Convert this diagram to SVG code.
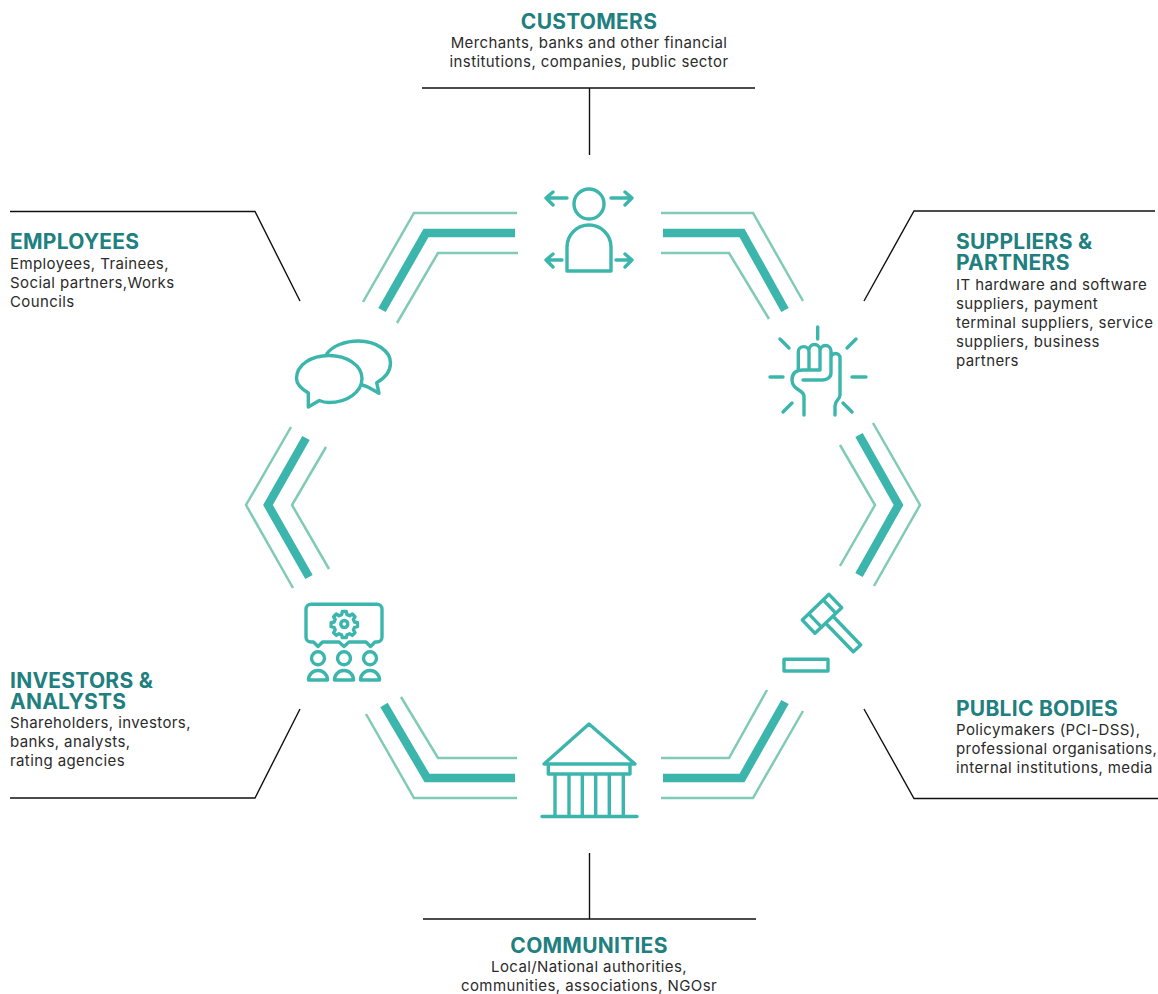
<svg xmlns="http://www.w3.org/2000/svg" width="1158" height="994" viewBox="0 0 1158 994">
<style>
text{font-family:"Inter","Liberation Sans",sans-serif}
.t{font-size:21px;font-weight:700;fill:#217f7f;letter-spacing:.25px}
.b{font-size:15px;font-weight:400;fill:#2b2b2b;letter-spacing:.4px}
.m{text-anchor:middle}
.lead{fill:none;stroke:#111;stroke-width:1.4}
.thin{fill:none;stroke:#7fcbb5;stroke-width:2.5}
.thick{fill:none;stroke:#3cb6ad;stroke-width:8.500}
.i{fill:none;stroke:#3cb6ad;stroke-width:3.400;stroke-linecap:round;stroke-linejoin:round}
</style>
<rect width="1158" height="994" fill="#fff"/>
<g id="connectors">
<path class="lead" d="M422 88H755M589.500 88V155"/>
<path class="lead" d="M423 919H756M589.500 853V919"/>
<path class="lead" d="M10 211.500H255L300 301"/>
<path class="lead" d="M10 798H255L300 709"/>
<path class="lead" d="M1155 211H914L864 301"/>
<path class="lead" d="M1158 798.500H914L864 709"/>
<path class="thin" d="M363 302L414 213H517"/>
<path class="thick" d="M382 310L426 233H515"/>
<path class="thin" d="M397 323L438 253H518"/>
<path class="thin" d="M803 301L753 213H661"/>
<path class="thick" d="M785 310L742 233H663"/>
<path class="thin" d="M769 319L729 253H661"/>
<path class="thin" d="M291 427L246 505L293 588"/>
<path class="thick" d="M306 438L268 505L309 577"/>
<path class="thin" d="M326 447L292 505L329 569"/>
<path class="thin" d="M873 423L920 505L874 586"/>
<path class="thick" d="M859 435L898.500 505L859 575"/>
<path class="thin" d="M840 445L875 505L840 566"/>
<path class="thin" d="M366 714L414 798H517"/>
<path class="thick" d="M384 705L427 778H515"/>
<path class="thin" d="M401 697L438 758H517"/>
<path class="thin" d="M803 711L753 798H661"/>
<path class="thick" d="M785 702L742 778H663"/>
<path class="thin" d="M767 690L729 758H661"/>
</g>
<g id="customers">
<text class="t m" x="589" y="29">CUSTOMERS</text>
<text class="b m" x="589" y="48">Merchants, banks and other financial</text>
<text class="b m" x="589" y="67">institutions, companies, public sector</text>
<g class="i"><circle cx="589" cy="204" r="15"/><path d="M567 271V247a22 22 0 0 1 44 0V271Z"/>
<path d="M567 198H546M553 192L546 198L553 205M611 198H632M625 192L632 198L625 205M562 260H546M553 254L546 260L553 267M616 260H632M625 254L632 260L625 267"/></g>
</g>
<g id="suppliers">
<text class="t" x="956" y="249">SUPPLIERS &amp;</text>
<text class="t" x="956" y="270">PARTNERS</text>
<text class="b" x="956" y="290">IT hardware and software</text>
<text class="b" x="956" y="309">suppliers, payment</text>
<text class="b" x="956" y="328">terminal suppliers, service</text>
<text class="b" x="956" y="347">suppliers, business</text>
<text class="b" x="956" y="366">partners</text>
<g class="i"><path d="M817.700 327V339M780 339L789 348M856 339L847 348M770 377H783M852 377H866M783 412L792 403M852 412L843 403"/>
<path d="M804 415V396C804 390 792 390 792 380C792 373 796 370 803 370H820M798.300 370V352a5.300 5.300 0 0 1 10.700 0V370M809 350a5.500 5.500 0 0 1 11 0V370M820 351a5.500 5.500 0 0 1 11 0V373C831 378 826 380 822 380H803M831 358a4.500 4.500 0 0 1 9 0V395C840 400 835 400 835 406V415"/></g>
</g>
<g id="public-bodies">
<text class="t" x="956" y="716">PUBLIC BODIES</text>
<text class="b" x="956" y="735">Policymakers (PCI-DSS),</text>
<text class="b" x="956" y="754">professional organisations,</text>
<text class="b" x="956" y="773">internal institutions, media</text>
<g class="i"><path d="M829 594.300L841.700 607.700L815 633.300L802.300 620ZM823.300 600L836 613.300M809.300 614.300L821.700 627.300M834 617.300L860.700 645L853.300 651.700L826.700 624.300"/><rect x="784" y="659.300" width="44" height="11.700"/></g>
</g>
<g id="communities">
<text class="t m" x="589" y="953">COMMUNITIES</text>
<text class="b m" x="589" y="972">Local/National authorities,</text>
<text class="b m" x="589" y="991">communities, associations, NGOsr</text>
<g class="i"><path d="M544 764L589 724L635 764ZM548.300 764V774H630V764M555 774V816M569 774V816M582.300 774V816M595.700 774V816M609.300 774V816M623.300 774V816M542 816.500H637"/></g>
</g>
<g id="investors">
<text class="t" x="10" y="688">INVESTORS &amp;</text>
<text class="t" x="10" y="709">ANALYSTS</text>
<text class="b" x="10" y="728">Shareholders, investors,</text>
<text class="b" x="10" y="747">banks, analysts,</text>
<text class="b" x="10" y="766">rating agencies</text>
<g class="i"><path d="M311 604.300H377a5 5 0 0 1 5 5V637a5 5 0 0 1-5 5H375L370.500 646.500L366 642H349L344 646.500L339 642H322.500L318 646.500L313.500 642H311a5 5 0 0 1-5-5V609.300a5 5 0 0 1 5-5Z"/>
<circle cx="344.300" cy="624" r="3.500"/>
<path d="M342.300 611.500H346.300L347 614.600L349.600 615.700L352.300 614L355 616.800L353.400 619.400L354.500 622L357.500 622.700V626.700L354.500 627.400L353.400 630L355 632.700L352.300 635.400L349.600 633.800L347 634.900L346.300 637.500H342.300L341.600 634.900L339 633.800L336.300 635.400L333.600 632.700L335.200 630L334.100 627.400L331.100 626.700V622.700L334.100 622L335.200 619.400L333.600 616.800L336.300 614L339 615.700L341.600 614.600Z"/>
<circle cx="318" cy="658.300" r="6.500"/><circle cx="344" cy="658.300" r="6.500"/><circle cx="370" cy="658.300" r="6.500"/>
<path d="M308.500 680a9.500 9.500 0 0 1 19 0ZM334.500 680a9.500 9.500 0 0 1 19 0ZM360.500 680a9.500 9.500 0 0 1 19 0Z"/></g>
</g>
<g id="employees">
<text class="t" x="10" y="249">EMPLOYEES</text>
<text class="b" x="10" y="269">Employees, Trainees,</text>
<text class="b" x="10" y="288">Social partners,Works</text>
<text class="b" x="10" y="307">Councils</text>
<g class="i"><path d="M308.300 393C300 388 296.500 384 296.500 378.500C296.500 365 311 355.500 329 355.500C347 355.500 362 365.500 362 378.500C362 392 347 402.500 329 402.500C326 402.500 322.500 402 319.300 400.500L308.300 407Z"/>
<path d="M326.700 354C332 346 345 341 358.500 341C376 341 390.500 351 390.500 363C390.500 371 385 378 376.700 382.700L379 393.300L368.300 387.300C366.500 386.500 364.500 385.500 362.300 385"/></g>
</g>
</svg>
